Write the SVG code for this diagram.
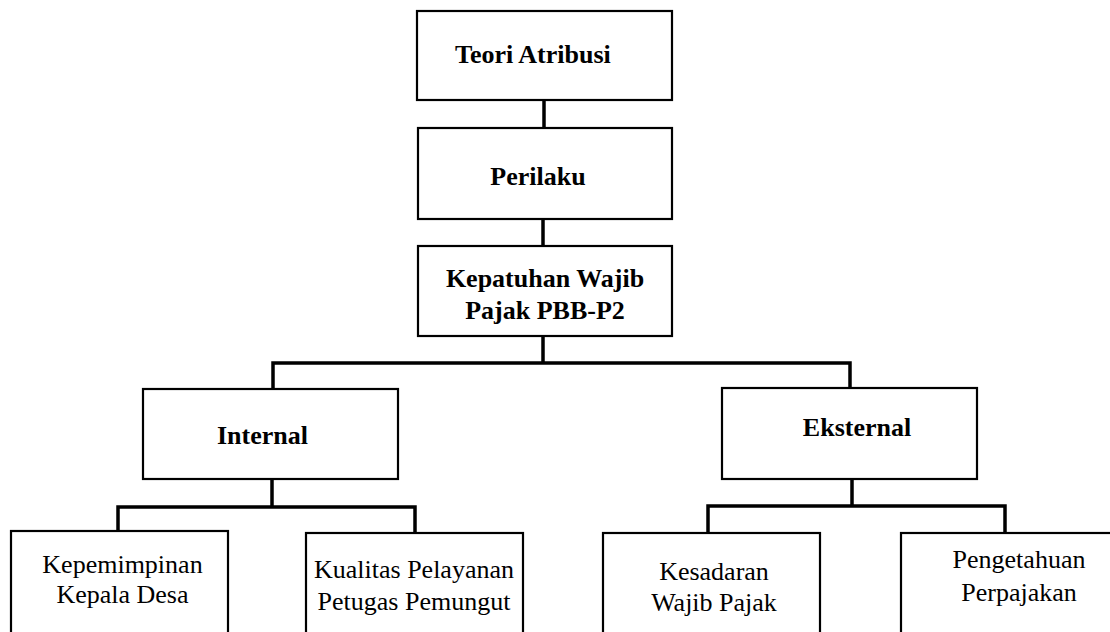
<svg xmlns="http://www.w3.org/2000/svg" width="1110" height="632" viewBox="0 0 1110 632">
<style>
.box{fill:#fff;stroke:#000;stroke-width:2.2}
.con{fill:none;stroke:#000;stroke-width:3.5;stroke-linecap:square;stroke-linejoin:miter}
.b{font-family:"Liberation Serif","Times New Roman",serif;font-weight:bold;font-size:26px;fill:#000}
.r{font-family:"Liberation Serif","Times New Roman",serif;font-size:26px;fill:#000;text-anchor:middle}
</style>
<rect width="1110" height="632" fill="#fff"/>
<g id="connectors">
<path class="con" d="M544,101 V127"/>
<path class="con" d="M543,220 V245"/>
<path class="con" d="M543,337 V363 M273,388 V363 H850 V388"/>
<path class="con" d="M272,480 V507 M118,531 V507 H415 V531"/>
<path class="con" d="M852,480 V506 M708,531 V506 H1005 V531"/>
</g>
<g id="teori">
<rect class="box" x="417" y="11" width="255" height="89"/>
<text class="b" x="455" y="63">Teori Atribusi</text>
</g>
<g id="perilaku">
<rect class="box" x="418" y="128" width="254" height="91"/>
<text class="b" x="538" y="185" text-anchor="middle">Perilaku</text>
</g>
<g id="kepatuhan">
<rect class="box" x="418" y="246" width="254" height="90"/>
<text class="b" x="545" y="287" text-anchor="middle">Kepatuhan Wajib</text>
<text class="b" x="545" y="319" text-anchor="middle">Pajak PBB-P2</text>
</g>
<g id="internal">
<rect class="box" x="143" y="389" width="255" height="90"/>
<text class="b" x="262.5" y="444" text-anchor="middle">Internal</text>
</g>
<g id="eksternal">
<rect class="box" x="722" y="388" width="255" height="91"/>
<text class="b" x="857" y="436" text-anchor="middle">Eksternal</text>
</g>
<g id="kepemimpinan">
<rect class="box" x="11" y="531" width="217" height="120"/>
<text class="r" x="122.5" y="573">Kepemimpinan</text>
<text class="r" x="122.5" y="603">Kepala Desa</text>
</g>
<g id="kualitas">
<rect class="box" x="306" y="533" width="217" height="120"/>
<text class="r" x="414" y="578">Kualitas Pelayanan</text>
<text class="r" x="414" y="610">Petugas Pemungut</text>
</g>
<g id="kesadaran">
<rect class="box" x="603" y="533" width="217" height="120"/>
<text class="r" x="714" y="580">Kesadaran</text>
<text class="r" x="714" y="611">Wajib Pajak</text>
</g>
<g id="pengetahuan">
<rect class="box" x="901" y="533" width="230" height="120"/>
<text class="r" x="1019" y="568">Pengetahuan</text>
<text class="r" x="1019" y="601">Perpajakan</text>
</g>
</svg>
